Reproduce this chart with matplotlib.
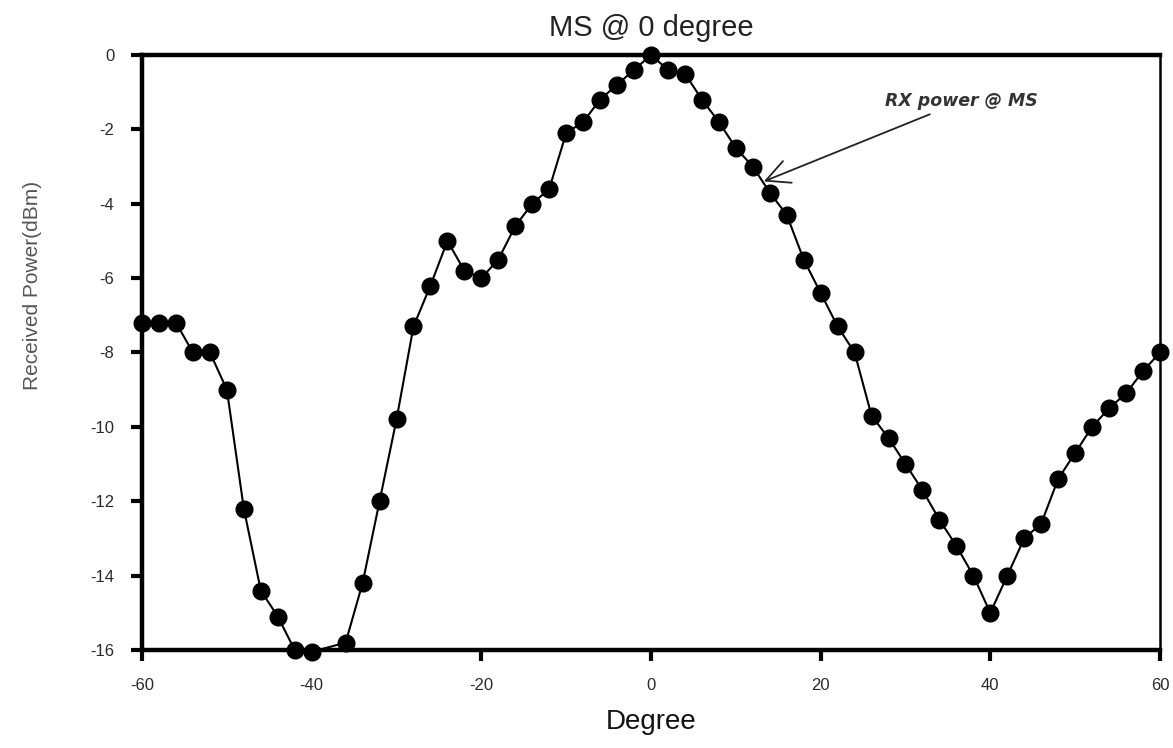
import numpy as np
import matplotlib
matplotlib.use("Agg")
import matplotlib.pyplot as plt

# received power vs angle
degree = [-60, -58, -56, -54, -52, -50, -48, -46, -44, -42, -40,
          -36, -34, -32, -30, -28, -26, -24, -22, -20, -18, -16,
          -14, -12, -10, -8, -6, -4, -2, 0, 2, 4, 6, 8, 10,
          12, 14, 16, 18, 20, 22, 24, 26, 28, 30, 32, 34, 36,
          38, 40, 42, 44, 46, 48, 50, 52, 54, 56, 58, 60]
power = [-7.2, -7.2, -7.2, -8.0, -8.0, -9.0, -12.2, -14.4, -15.1, -16.0, -16.05,
         -15.8, -14.2, -12.0, -9.8, -7.3, -6.2, -5.0, -5.8, -6.0, -5.5, -4.6,
         -4.0, -3.6, -2.1, -1.8, -1.2, -0.8, -0.4, 0.0, -0.4, -0.5, -1.2, -1.8, -2.5,
         -3.0, -3.7, -4.3, -5.5, -6.4, -7.3, -8.0, -9.7, -10.3, -11.0, -11.7, -12.5, -13.2,
         -14.0, -15.0, -14.0, -13.0, -12.6, -11.4, -10.7, -10.0, -9.5, -9.1, -8.5, -8.0]

xticks = [-60, -40, -20, 0, 20, 40, 60]
yticks = [0, -2, -4, -6, -8, -10, -12, -14, -16]

plt.rcParams['font.family'] = ['Liberation Sans', 'DejaVu Sans']
plt.rcParams['axes.unicode_minus'] = False

fig = plt.figure(figsize=(11.73, 7.48), dpi=100)
ax = fig.add_axes([0.1211, 0.131, 0.8678, 0.7955])

ax.plot(degree, power, color='black', lw=1.5, marker='o', markersize=12,
        markerfacecolor='black', markeredgecolor='black', clip_on=False, zorder=3)

ax.set_xlim(-60, 60)
ax.set_ylim(-16, 0)
ax.set_xticks(xticks)
ax.set_yticks(yticks)
ax.tick_params(axis='both', direction='out', length=8, width=3, colors='black',
               labelcolor='#2a2a2a', labelsize=12, pad=12)

for side in ['left', 'top', 'bottom']:
    ax.spines[side].set_linewidth(3.2)
ax.spines['right'].set_linewidth(1.8)

ax.set_title('MS @ 0 degree', fontsize=21, pad=14, color='#222222')
ax.set_xlabel('Degree', fontsize=20, labelpad=12, color='#111111')
ax.set_ylabel('Received Power(dBm)', fontsize=15, color='#555555')
ax.yaxis.set_label_coords(-0.098, 0.613)

ax.annotate('RX power @ MS', xy=(13.3, -3.4), xytext=(27.6, -1.25),
            fontsize=12.5, fontstyle='italic', fontweight='bold', color='#333333',
            family='DejaVu Sans', va='center', ha='left',
            arrowprops=dict(arrowstyle='->', lw=1.3, color='#222222',
                            mutation_scale=42, shrinkA=2, shrinkB=0))

plt.savefig('out.png', dpi=100)
